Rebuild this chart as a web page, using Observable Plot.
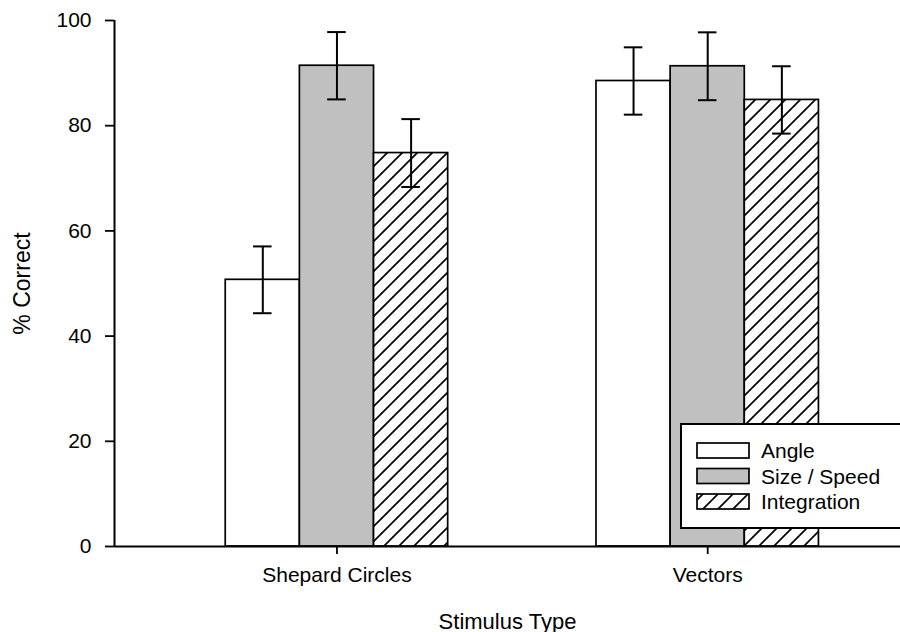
<!DOCTYPE html>
<html>
<head>
<meta charset="utf-8">
<script src="https://cdn.jsdelivr.net/npm/d3@7"></script>
<script src="https://cdn.jsdelivr.net/npm/@observablehq/plot@0.6"></script>
<style>
  body { margin: 0; background: white; }
  #wrap { position: relative; width: 900px; height: 632px; overflow: hidden; font-family: "Liberation Sans", Arial, sans-serif; }
  #legend { position: absolute; left: 680px; top: 423px; width: 240px; height: 102px; border: 2px solid black; background: white; box-sizing: content-box; }
</style>
</head>
<body>
<div id="wrap"><div id="chart"></div><div id="legend"></div></div>
<script>
// ---- data ----
const groups = ["Shepard Circles", "Vectors"];
const series = ["Angle", "Size / Speed", "Integration"];
const angleMean = [50.7, 88.5];
const sizeMean = [91.4, 91.3];
const integrationMean = [74.8, 84.9];
const angleErr = [6.35, 6.4];
const sizeErr = [6.4, 6.45];
const integrationErr = [6.45, 6.4];
const yTicks = [0, 20, 40, 60, 80, 100];
const fills = ["white", "#c0c0c0", "url(#hatch)"];

const meansBySeries = [angleMean, sizeMean, integrationMean];
const errsBySeries = [angleErr, sizeErr, integrationErr];
const groupSpacing = 5; // in bar widths
const data = groups.flatMap((g, gi) => series.map((s, si) => ({
  group: g, series: s,
  pos: gi * groupSpacing + (si - 1),
  mean: meansBySeries[si][gi],
  err: errsBySeries[si][gi]
})));
const xDomain = [-3, 7.6];
const cap = 0.125;
const font = "'Liberation Sans', Arial, sans-serif";

const svg = Plot.plot({
  width: 900,
  height: 632,
  marginLeft: 114,
  marginRight: 0,
  marginTop: 20,
  marginBottom: 86,
  style: { fontFamily: font, fontSize: "21px", color: "black", background: "white" },
  x: { domain: xDomain },
  y: { domain: [0, 100] },
  color: { domain: series, range: fills },
  marks: [
    Plot.rectY(data, { x1: d => d.pos - 0.5, x2: d => d.pos + 0.5, y: "mean", fill: "series", stroke: "black", strokeWidth: 1.7 }),
    Plot.ruleX(data, { x: "pos", y1: d => d.mean - d.err, y2: d => d.mean + d.err, stroke: "black", strokeWidth: 2 }),
    Plot.ruleY(data, { y: d => d.mean + d.err, x1: d => d.pos - cap, x2: d => d.pos + cap, stroke: "black", strokeWidth: 2 }),
    Plot.ruleY(data, { y: d => d.mean - d.err, x1: d => d.pos - cap, x2: d => d.pos + cap, stroke: "black", strokeWidth: 2 }),
    Plot.ruleY([0], { stroke: "black", strokeWidth: 2 }),
    Plot.ruleX([xDomain[0]], { y1: 0, y2: 100, stroke: "black", strokeWidth: 2 }),
    Plot.axisY({ ticks: yTicks, tickSize: 9, tickPadding: 14, strokeWidth: 1.8, fontSize: 21, label: null }),
    Plot.axisY({ ticks: [], fontSize: 23, label: "% Correct", labelAnchor: "center", labelOffset: 101, labelArrow: "none" }),
    Plot.axisX({ ticks: groups.map((g, i) => i * groupSpacing), tickFormat: d => groups[Math.round(d / groupSpacing)], tickSize: 8, tickPadding: 13, strokeWidth: 1.8, fontSize: 21, label: null }),
    Plot.axisX({ ticks: [], fontSize: 22, label: "Stimulus Type", labelAnchor: "center", labelOffset: 82, labelArrow: "none" })
  ]
});

function addHatch(sel, id) {
  const p = sel.insert("defs", ":first-child").append("pattern")
    .attr("id", id).attr("patternUnits", "userSpaceOnUse").attr("width", 15).attr("height", 15);
  p.append("rect").attr("width", 15).attr("height", 15).attr("fill", "white");
  p.append("path").attr("d", "M0,15L15,0M-3.75,3.75L3.75,-3.75M11.25,18.75L18.75,11.25")
    .attr("stroke", "black").attr("stroke-width", 1.7);
}
addHatch(d3.select(svg), "hatch");
document.getElementById("chart").appendChild(svg);

// ---- legend ----
const lg = d3.select("#legend").append("svg").attr("width", 240).attr("height", 102);
addHatch(lg, "hatchL");
const legendFills = fills.map(f => f.replace("#hatch", "#hatchL"));
series.forEach((s, i) => {
  const y = 18 + i * 25.5;
  lg.append("rect").attr("x", 15).attr("y", y).attr("width", 52).attr("height", 15)
    .attr("fill", legendFills[i]).attr("stroke", "black").attr("stroke-width", 1.7);
  lg.append("text").attr("x", 79).attr("y", y + 7.5).attr("dy", "0.36em")
    .attr("font-size", "21px").attr("font-family", font).text(s);
});
</script>
</body>
</html>
